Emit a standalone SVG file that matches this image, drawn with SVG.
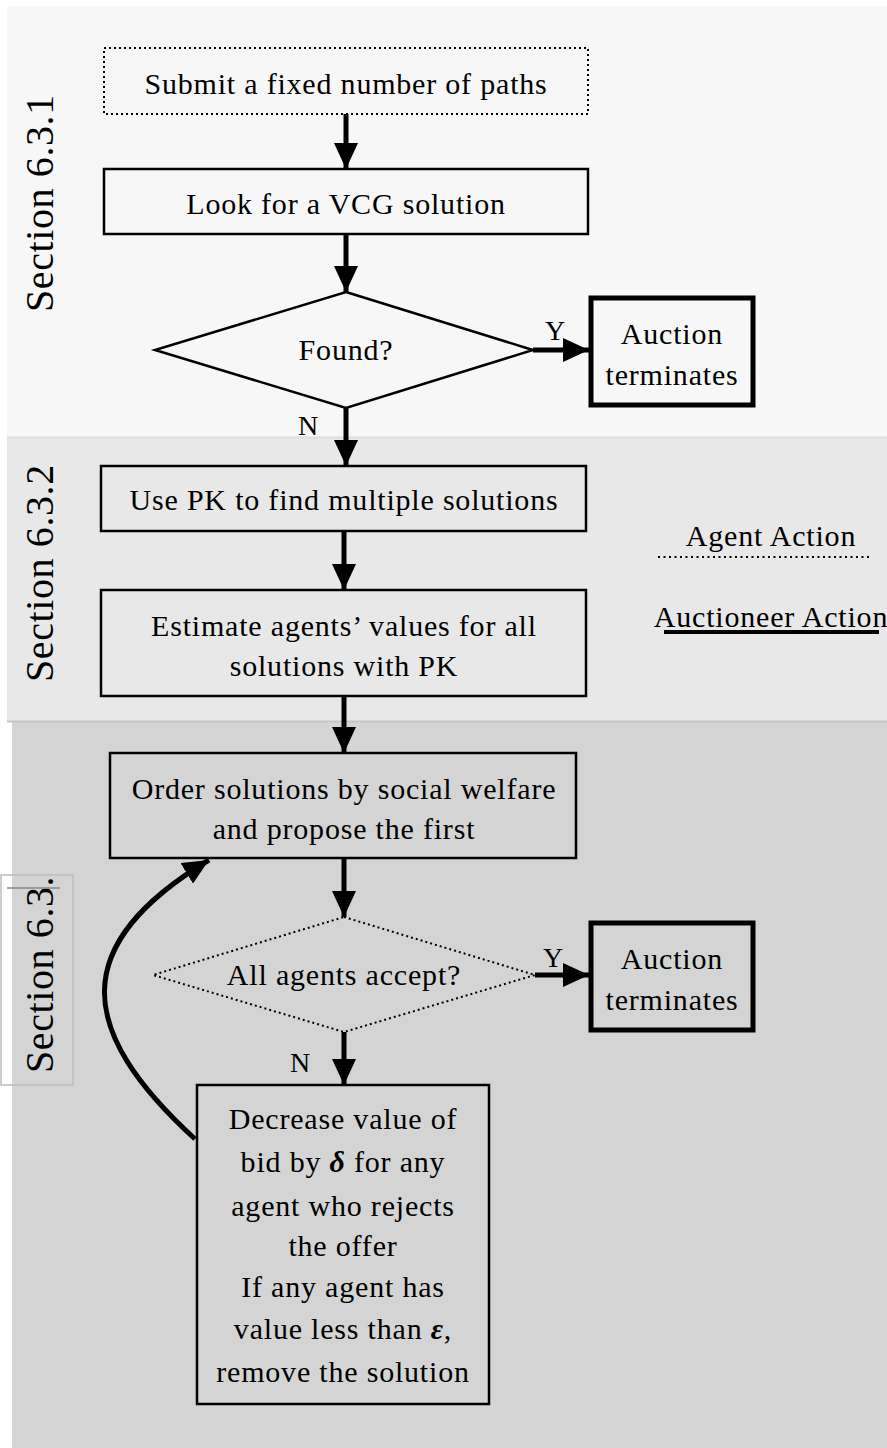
<svg xmlns="http://www.w3.org/2000/svg" width="887" height="1448" viewBox="0 0 887 1448">
<style>
text{font-family:"Liberation Serif","DejaVu Serif","Times New Roman",serif;fill:#000}
.t{font-size:30px;text-anchor:middle;letter-spacing:0.8px}
.sec{font-size:40px;text-anchor:start;letter-spacing:0.6px}
.lbl{font-size:28px;text-anchor:middle}
.box{fill:none;stroke:#000;stroke-width:2.5}
.dot{fill:none;stroke:#000;stroke-width:2;stroke-dasharray:2 3}
.thick{fill:none;stroke:#000;stroke-width:5}
.conn{fill:none;stroke:#000;stroke-width:5}
</style>
<defs>
<marker id="ah" markerUnits="userSpaceOnUse" markerWidth="28" markerHeight="24" refX="26" refY="12" orient="auto">
<path d="M0,0 L26,12 L0,24 z" fill="#000"/>
</marker>
</defs>
<rect x="0" y="0" width="887" height="1448" fill="#fff"/>
<g id="bands">
<rect x="7" y="6" width="880" height="431" fill="#f7f7f7"/>
<rect x="7" y="437" width="880" height="284" fill="#e8e8e8"/>
<rect x="12" y="721" width="875" height="727" fill="#d4d4d4"/>
<line x1="7" y1="437.5" x2="887" y2="437.5" stroke="#dedede" stroke-width="2"/>
<line x1="7" y1="721.5" x2="887" y2="721.5" stroke="#c6c6c6" stroke-width="2"/>
</g>
<g id="sections">
<text class="sec" transform="translate(53,312) rotate(-90)">Section 6.3.1</text>
<text class="sec" transform="translate(53,682) rotate(-90)">Section 6.3.2</text>
<rect x="1" y="875" width="72" height="210" fill="none" stroke="#bdbdbd" stroke-width="1.5"/>
<text class="sec" transform="translate(53,1073) rotate(-90)">Section 6.3.</text>
<line x1="7" y1="888" x2="60" y2="888" stroke="#888" stroke-width="1.5"/>
</g>
<g id="connectors">
<line class="conn" x1="346" y1="114" x2="346" y2="169" marker-end="url(#ah)"/>
<line class="conn" x1="346" y1="234" x2="346" y2="292" marker-end="url(#ah)"/>
<line class="conn" x1="533" y1="350" x2="589" y2="350" marker-end="url(#ah)"/>
<line class="conn" x1="346" y1="408" x2="346" y2="466" marker-end="url(#ah)"/>
<line class="conn" x1="344" y1="531" x2="344" y2="590" marker-end="url(#ah)"/>
<line class="conn" x1="344" y1="696" x2="344" y2="753" marker-end="url(#ah)"/>
<line class="conn" x1="344" y1="858" x2="344" y2="917" marker-end="url(#ah)"/>
<line class="conn" x1="535" y1="975" x2="589" y2="975" marker-end="url(#ah)"/>
<line class="conn" x1="344" y1="1032" x2="344" y2="1085" marker-end="url(#ah)"/>
<path class="conn" d="M195,1139 C76,1030 68,945 209,860" marker-end="url(#ah)"/>
<text class="lbl" x="555" y="340">Y</text>
<text class="lbl" x="308" y="435">N</text>
<text class="lbl" x="553" y="967">Y</text>
<text class="lbl" x="300" y="1072">N</text>
</g>
<g id="n1"><rect class="dot" x="104" y="48" width="484" height="66"/><text class="t" x="346" y="94">Submit a fixed number of paths</text></g>
<g id="n2"><rect class="box" x="104" y="169" width="484" height="65"/><text class="t" x="346" y="214">Look for a VCG solution</text></g>
<g id="n3"><polygon class="box" points="346,292 533,350 346,408 155,350"/><text class="t" x="346" y="360">Found?</text></g>
<g id="n4"><rect class="thick" x="591" y="298" width="162" height="107"/><text class="t" x="672" y="344">Auction</text><text class="t" x="672" y="385">terminates</text></g>
<g id="n5"><rect class="box" x="101" y="466" width="485" height="65"/><text class="t" x="344" y="510">Use PK to find multiple solutions</text></g>
<g id="n6"><rect class="box" x="101" y="590" width="485" height="106"/><text class="t" x="344" y="636">Estimate agents’ values for all</text><text class="t" x="344" y="676">solutions with PK</text></g>
<g id="n7"><rect class="box" x="110" y="753" width="466" height="105"/><text class="t" x="344" y="799">Order solutions by social welfare</text><text class="t" x="344" y="839">and propose the first</text></g>
<g id="n8"><polygon class="dot" points="344,917 535,975 344,1032 153,975"/><text class="t" x="344" y="985">All agents accept?</text></g>
<g id="n9"><rect class="thick" x="591" y="923" width="162" height="107"/><text class="t" x="672" y="969">Auction</text><text class="t" x="672" y="1010">terminates</text></g>
<g id="n10"><rect class="box" x="197" y="1085" width="292" height="319"/>
<text class="t" x="343" y="1129">Decrease value of</text>
<text class="t" x="343" y="1172">bid by <tspan font-style="italic" font-weight="bold">δ</tspan> for any</text>
<text class="t" x="343" y="1216">agent who rejects</text>
<text class="t" x="343" y="1256">the offer</text>
<text class="t" x="343" y="1297">If any agent has</text>
<text class="t" x="343" y="1339">value less than <tspan font-style="italic" font-weight="bold">ε</tspan>,</text>
<text class="t" x="343" y="1382">remove the solution</text>
</g>
<g id="legend">
<text class="t" x="771" y="546">Agent Action</text>
<line x1="658" y1="557" x2="870" y2="557" stroke="#000" stroke-width="2" stroke-dasharray="2 3.5"/>
<text class="t" x="771" y="627">Auctioneer Action</text>
<line x1="664" y1="632" x2="879" y2="632" stroke="#000" stroke-width="4"/>
</g>
</svg>
